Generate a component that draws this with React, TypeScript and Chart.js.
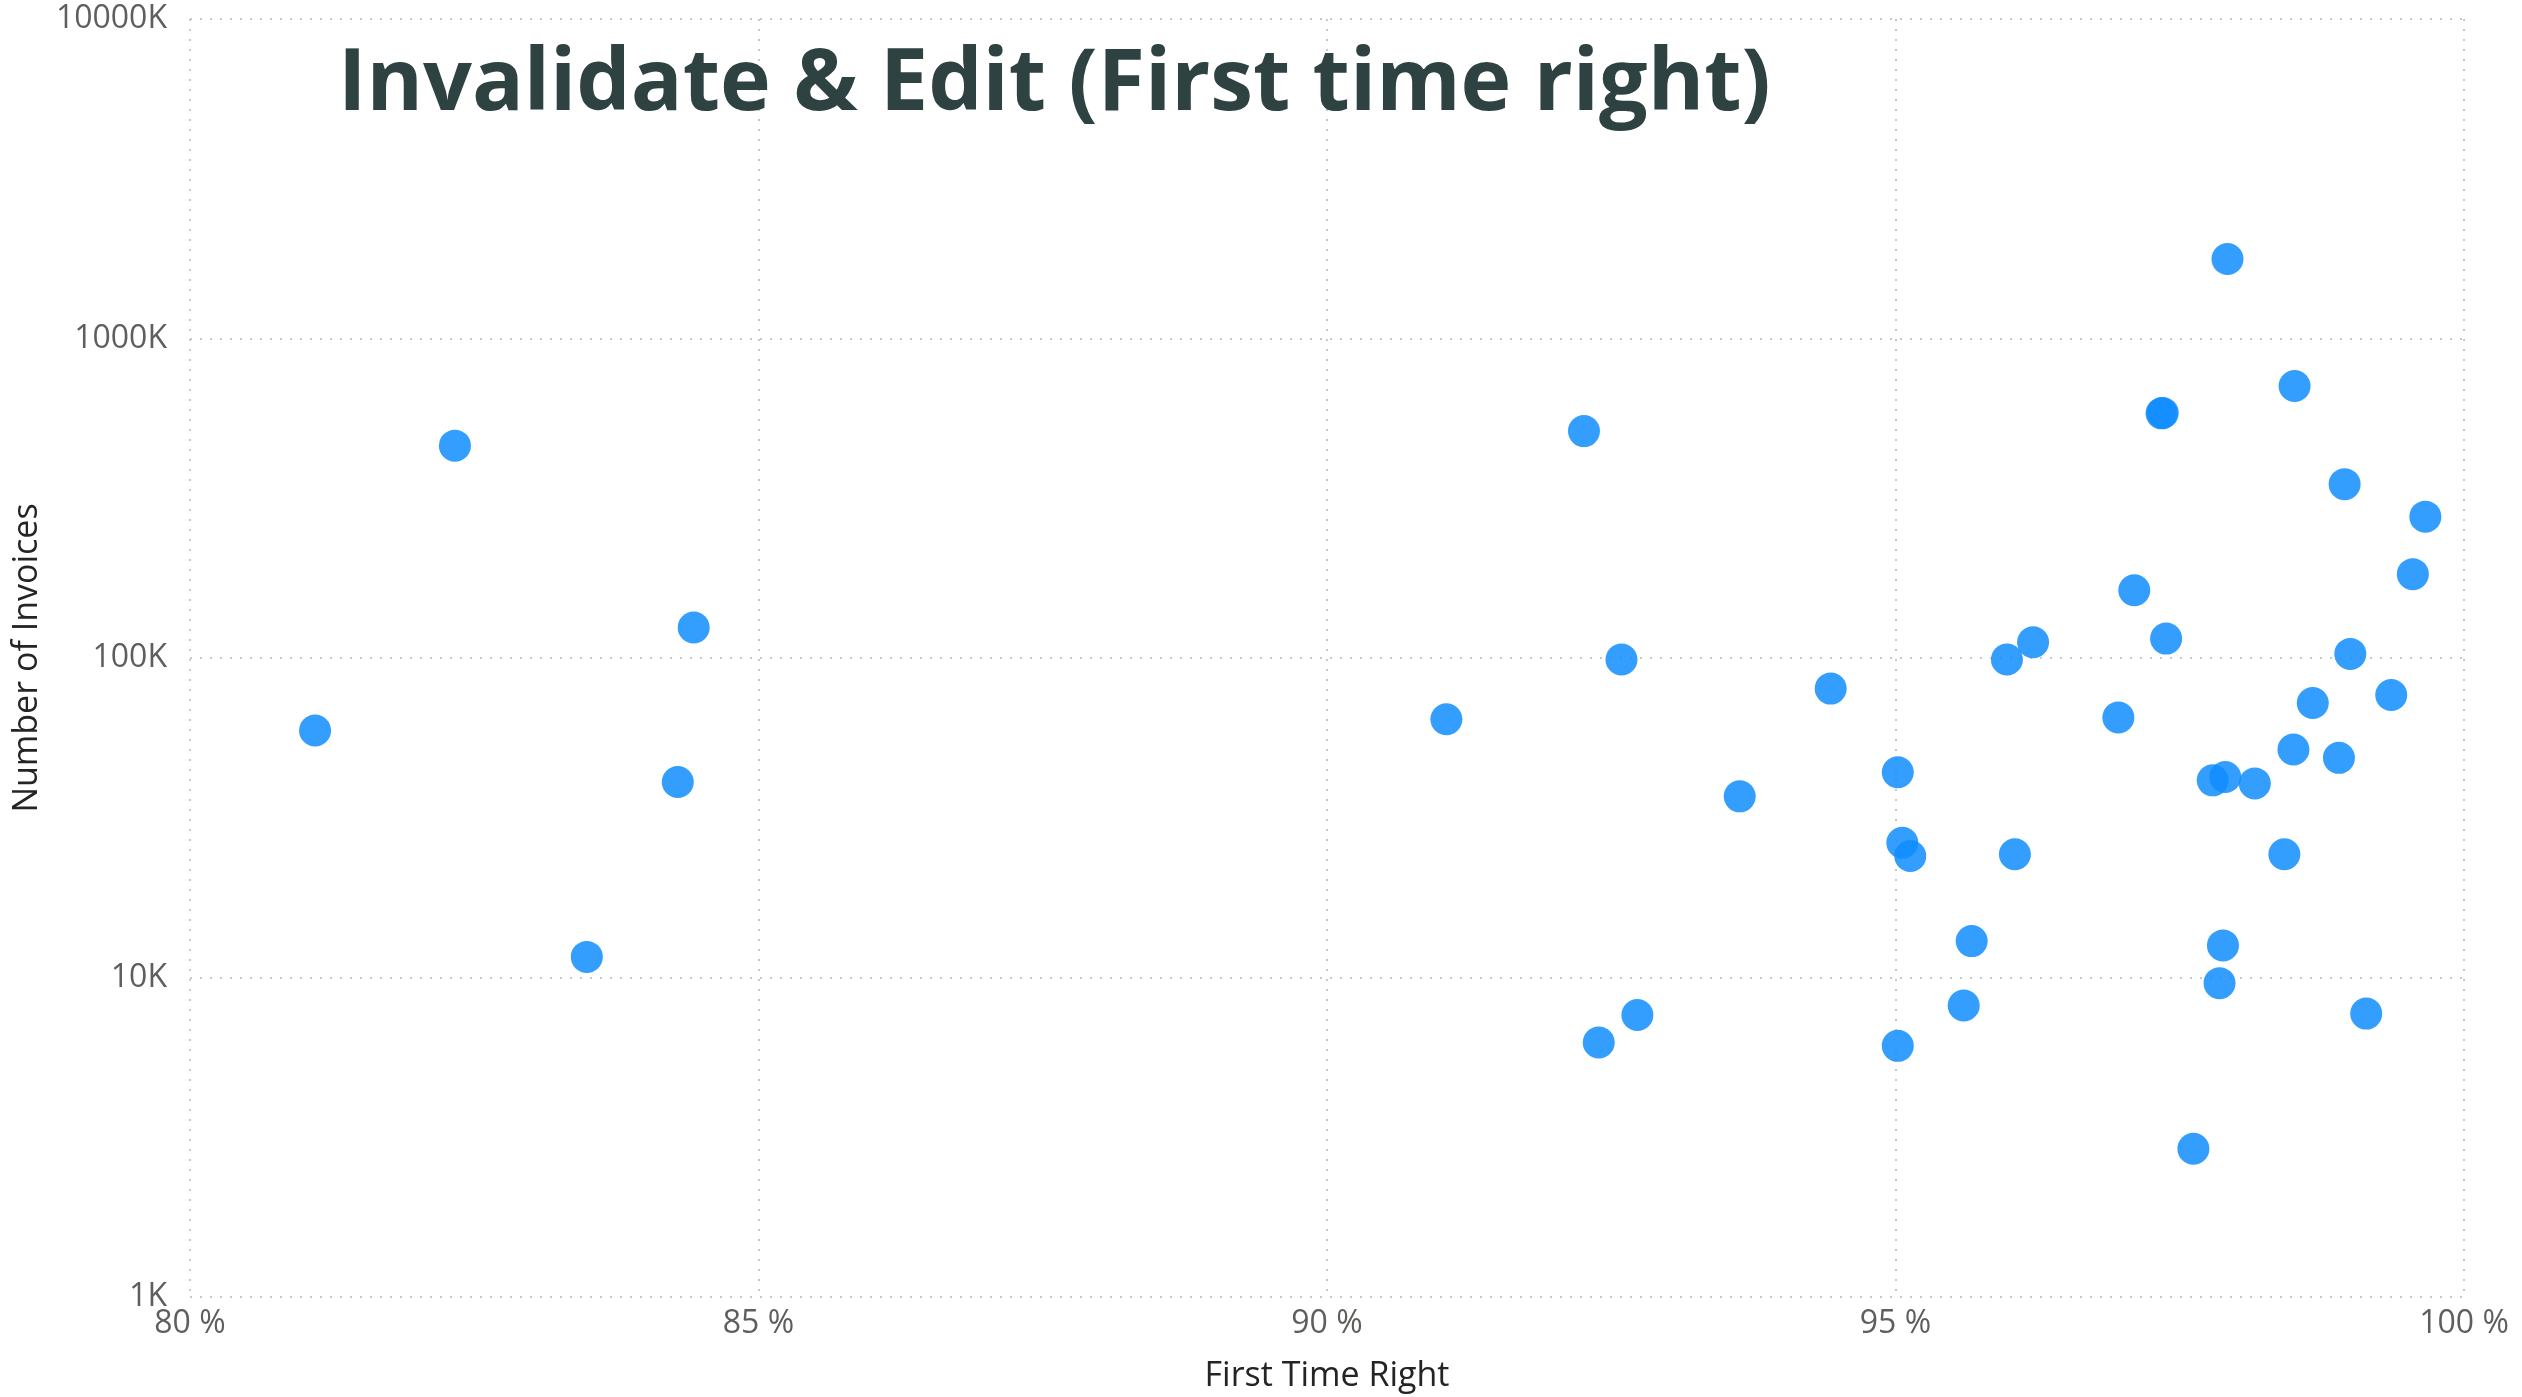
import React, { useEffect, useRef } from "react";
import { Chart, registerables } from "chart.js";
Chart.register(...registerables);

const titleText = "Invalidate & Edit (First time right)";
const xAxisTitle = "First Time Right";
const yAxisTitle = "Number of Invoices";

// First time right (%)
const firstTimeRight = [
  81.10, 82.33, 83.49, 84.29, 84.43, 91.05, 92.26, 92.39, 92.59, 92.73,
  93.63, 94.43, 95.02, 95.06, 95.13, 95.02, 95.60, 95.67, 95.98, 96.05,
  96.21, 96.96, 97.10, 97.34, 97.35, 97.38, 97.62, 97.79, 97.90, 97.85,
  97.88, 97.92, 98.16, 98.42, 98.50, 98.51, 98.67, 98.90, 98.95, 99.00,
  99.14, 99.36, 99.55, 99.66,
];
// Number of invoices (thousands)
const invoicesK = [
  59.3, 462, 11.6, 40.9, 124.6, 64.3, 513, 6.26, 98.9, 7.63,
  36.9, 80.2, 43.9, 26.4, 24.0, 6.11, 8.17, 13.0, 98.9, 24.3,
  112, 65.1, 163, 583, 585, 115, 2.91, 41.4, 42.4, 9.6,
  12.6, 1774, 40.5, 24.3, 51.7, 710, 72.3, 48.7, 350, 103,
  7.71, 76.6, 183, 277,
];
const xTicks = [80, 85, 90, 95, 100];
const yTicks = [1, 10, 100, 1000, 10000];

const W = 2522;
const H = 1397;

export default function App() {
  const ref = useRef<HTMLCanvasElement | null>(null);
  useEffect(() => {
    document.body.style.margin = "0";
    const canvas = ref.current!;
    const titlePlugin = {
      id: "bigTitle",
      afterDraw(chart: any) {
        const ctx = chart.ctx;
        ctx.save();
        ctx.font = '700 86px "Open Sans", "Noto Sans", sans-serif';
        ctx.fillStyle = "#2E4242";
        ctx.textAlign = "left";
        ctx.textBaseline = "alphabetic";
        ctx.fillText(titleText, 338, 110);
        ctx.restore();
      },
    };
    const tickFont = { family: '"Open Sans", "Noto Sans", sans-serif', size: 32 };
    const titleFont = { family: '"Open Sans", "Noto Sans", sans-serif', size: 34 };
    const grid = { color: "#C8C8C8", lineWidth: 2, drawTicks: false };
    const chart = new Chart(canvas, {
      type: "scatter",
      data: {
        datasets: [
          {
            data: firstTimeRight.map((x, i) => ({ x, y: invoicesK[i] })),
            backgroundColor: "rgba(17,141,255,0.85)",
            borderWidth: 0,
            pointRadius: 16,
            pointHoverRadius: 16,
          },
        ],
      },
      options: {
        animation: false,
        responsive: false,
        devicePixelRatio: 1,
        events: [],
        layout: { padding: { top: 19, right: 58, left: 0, bottom: 0 } },
        plugins: { legend: { display: false }, tooltip: { enabled: false } },
        scales: {
          x: {
            type: "linear",
            min: 80,
            max: 100,
            afterBuildTicks: (s: any) => {
              s.ticks = xTicks.map((v) => ({ value: v }));
            },
            afterFit: (s: any) => {
              s.height = 100;
              s.paddingLeft = 0;
              s.paddingRight = 0;
            },
            ticks: {
              font: tickFont,
              color: "#605E5C",
              padding: 8,
              maxRotation: 0,
              callback: (v: any) => `${v} %`,
            },
            grid,
            border: { display: false, dash: [2, 8] },
            title: {
              display: true,
              text: xAxisTitle,
              font: titleFont,
              color: "#252423",
              padding: { top: 2, bottom: 0 },
            },
          },
          y: {
            type: "logarithmic",
            min: 1,
            max: 10000,
            afterBuildTicks: (s: any) => {
              s.ticks = yTicks.map((v) => ({ value: v }));
            },
            afterFit: (s: any) => {
              s.width = 190;
              s.paddingTop = 0;
              s.paddingBottom = 0;
            },
            ticks: {
              font: tickFont,
              color: "#605E5C",
              padding: 23,
              callback: (v: any) => `${v}K`,
            },
            grid,
            border: { display: false, dash: [2, 8] },
            title: {
              display: true,
              text: yAxisTitle,
              font: titleFont,
              color: "#252423",
              padding: { top: 7, bottom: 0 },
            },
          },
        },
      },
      plugins: [titlePlugin],
    } as any);
    return () => chart.destroy();
  }, []);
  return (
    <div style={{ position: "fixed", left: 0, top: 0, width: W, height: H, background: "#fff", overflow: "hidden" }}>
      <canvas ref={ref} width={W} height={H} style={{ width: W, height: H, display: "block" }} />
    </div>
  );
}
